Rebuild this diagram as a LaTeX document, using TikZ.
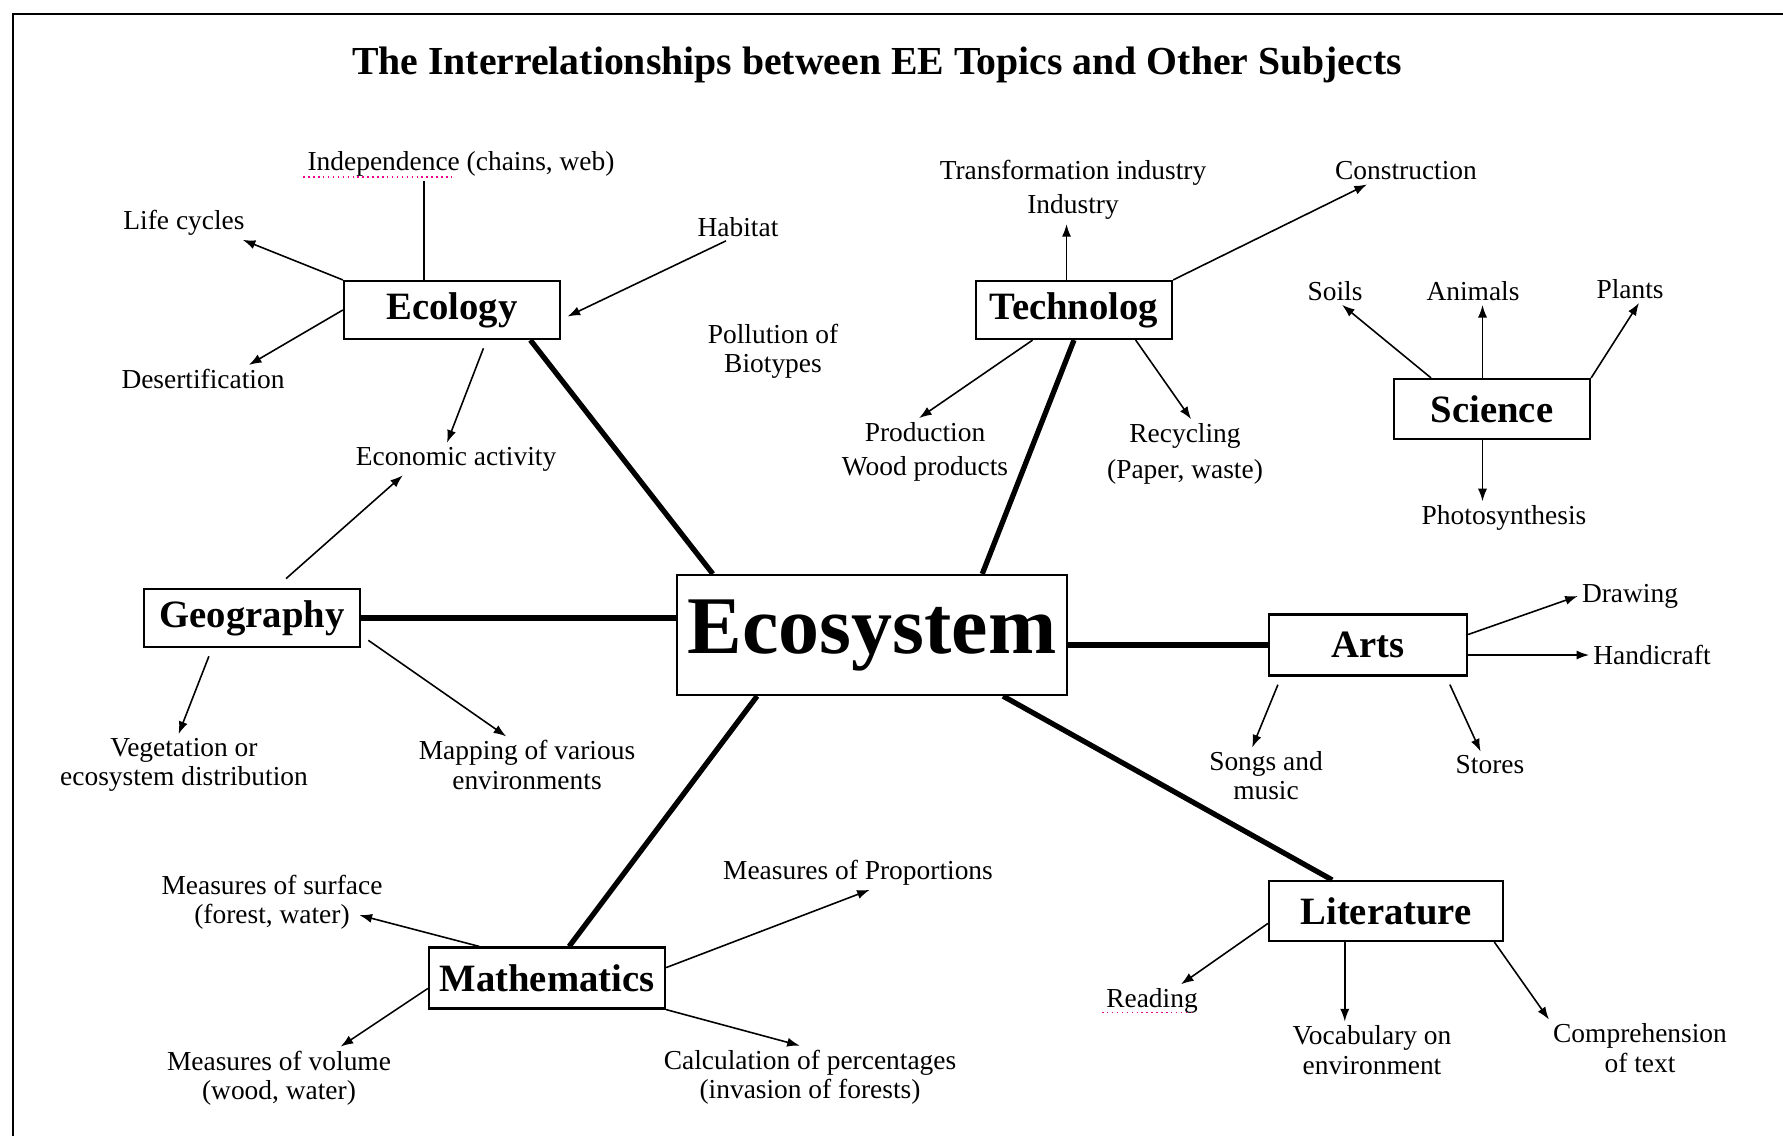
\documentclass[tikz,border=0pt]{standalone}
\usepackage{fontspec}
\setmainfont{Liberation Serif}
\usetikzlibrary{arrows.meta}

\begin{document}
\begin{tikzpicture}[x=0.01cm,y=-0.01cm,>={Latex[length=3.6pt,width=2.6pt]}]
    \tikzstyle{subject}=[draw=black,line width=0.6pt,inner sep=0pt,font=\bfseries\fontsize{11}{13}\selectfont]
    \tikzstyle{topic}=[inner sep=1pt,align=center,font=\fontsize{7.8}{8.3}\selectfont]
    \tikzstyle{spoke}=[line width=1.5pt]
    \tikzstyle{link}=[->,line width=0.45pt]
    \tikzstyle{spell}=[magenta,densely dotted,line width=0.4pt]

    \useasboundingbox (0,0) rectangle (1783,1136);
    \draw[line width=0.8pt] (13,1136) -- (13,14) -- (1783,14);

    \node[font=\bfseries\fontsize{11.3}{13}\selectfont] (title) at (877,65)
        {The Interrelationships between EE Topics and Other Subjects};

    % subjects
    \node[subject,minimum width=21.6mm,minimum height=5.8mm] (ecology) at (452,310) {Ecology};
    \node[subject,minimum width=19.6mm,minimum height=5.8mm] (techno) at (1074,310) {Technolog};
    \node[subject,minimum width=19.6mm,minimum height=6mm] (science) at (1492,409) {Science};
    \node[subject,minimum width=21.6mm,minimum height=5.8mm] (geo) at (252,618) {Geography};
    \node[subject,minimum width=19.8mm,minimum height=6.1mm] (arts) at (1368,645) {Arts};
    \node[subject,minimum width=23.6mm,minimum height=6.1mm] (maths) at (547,978) {Mathematics};
    \node[subject,minimum width=23.4mm,minimum height=6mm] (litera) at (1386,911) {Literature};
    \node[subject,minimum width=39mm,minimum height=12mm,font=\bfseries\fontsize{23.3}{26}\selectfont]
        (ecosys) at (872,635) {Ecosystem};

    % topics
    \node[topic] (indep) at (461,164) {Independence (chains, web)};
    \node[topic] (life) at (184,223) {Life cycles};
    \node[topic] (habitat) at (738,227) {Habitat};
    \node[topic] (desert) at (203,379) {Desertification};
    \node[topic] (econ) at (456,459) {Economic activity};
    \node[topic] (pollut) at (773,351) {Pollution of\\Biotypes};
    \node[topic] (trans) at (1073,190) {Transformation industry\\[1.5pt]Industry};
    \node[topic] (constr) at (1406,171) {Construction};
    \node[topic] (prod) at (925,452) {Production\\[1.5pt]Wood products};
    \node[topic] (recyc) at (1185,454) {Recycling\\[2pt](Paper, waste)};
    \node[topic] (soils) at (1335,291) {Soils};
    \node[topic] (animals) at (1473,291) {Animals};
    \node[topic] (plants) at (1630,289) {Plants};
    \node[topic] (photo) at (1504,518) {Photosynthesis};
    \node[topic] (veg) at (184,765) {Vegetation or\\ecosystem distribution};
    \node[topic] (mapping) at (527,765) {Mapping of various\\environments};
    \node[topic] (drawing) at (1630,596) {Drawing};
    \node[topic] (handi) at (1652,655) {Handicraft};
    \node[topic] (songs) at (1266,776) {Songs and\\music};
    \node[topic] (stores) at (1490,765) {Stores};
    \node[topic] (reading) at (1152,1001) {Reading};
    \node[topic] (vocab) at (1372,1050) {Vocabulary on\\environment};
    \node[topic] (compr) at (1640,1048) {Comprehension\\of text};
    \node[topic] (surface) at (272,902) {Measures of surface\\(forest, water)};
    \node[topic] (volume) at (279,1078) {Measures of volume\\(wood, water)};
    \node[topic] (props) at (858,873) {Measures of Proportions};
    \node[topic] (calc) at (810,1077) {Calculation of percentages\\(invasion of forests)};

    \draw[spell] ([yshift=1pt]indep.south west) -- ++(152,0);
    \draw[spell] ([yshift=1.5pt]reading.south west) -- ++(89,0);

    % hub spokes
    \foreach \from/\to in {ecology.-21/ecosys.159, techno.south/ecosys.29,
                           maths.55/ecosys.208, ecosys.-25/litera.150}
        \draw[spoke] (\from) -- (\to);
    \draw[spoke] (geo.east) -- (geo.east -| ecosys.west);
    \draw[spoke] (ecosys.east |- arts.west) -- (arts.west);

    % topic arrows
    \foreach \from/\to in {ecology.north west/life.-16, ecology.west/desert.17,
                           techno.north east/constr.199, techno.216/prod.100, techno.-26/recyc.80,
                           science.153/soils.-63, science.north east/plants.-57,
                           arts.6/drawing.west, litera.186/reading.30, litera.-16/compr.north west,
                           maths.185/volume.27, maths.5/props.-55, maths.south east/calc.108}
        \draw[link] (\from) -- (\to);
    \foreach \from/\to in {ecology.-41/econ.119, geo.217/veg.100, geo.-9/mapping.126,
                           arts.200/songs.116, arts.-22/stores.125}
        \draw[link,shorten <=2.5pt] (\from) -- (\to);
    \draw[link,shorten <=4pt] (geo.52) -- (econ.197);
    \draw[link,shorten >=2pt] (habitat.229) -- (ecology.-5);
    \draw[link,shorten >=-8pt] (maths.155) -- (surface.-10);
    \draw[line width=0.45pt] (ecology.133) -- (ecology.133 |- indep.south);
    \draw[link] (techno.104) -- (techno.104 |- trans.south);
    \draw[link] (science.107) -- (science.107 |- animals.south);
    \draw[link] (science.-107) -- (science.-107 |- photo.north);
    \draw[link] (handi.west -| arts.east) -- (handi.west);
    \draw[link] (litera.217) -- (litera.217 |- vocab.north);
\end{tikzpicture}
\end{document}
